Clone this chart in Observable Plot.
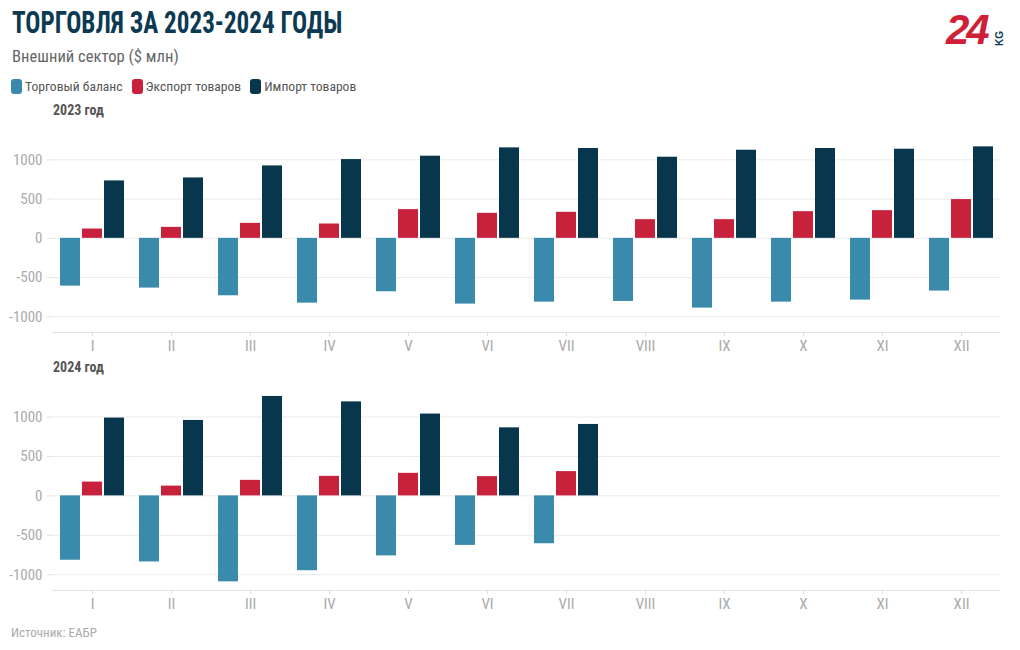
<!DOCTYPE html>
<html>
<head>
<meta charset="utf-8">
<script src="https://cdn.jsdelivr.net/npm/d3@7"></script>
<script src="https://cdn.jsdelivr.net/npm/@observablehq/plot@0.6"></script>
<style>
  body { margin: 0; background: #fff; }
  #root { position: relative; width: 1020px; height: 650px; overflow: hidden;
          font-family: "Roboto Condensed", "Liberation Sans Narrow", "DejaVu Sans Condensed", Roboto, sans-serif; }
  .abs { position: absolute; white-space: nowrap; }
  #title { left: 12px; top: 4px; font-size: 31px; font-weight: 700; color: #0b3a52;
           transform: scaleX(0.81); transform-origin: 0 0; }
  #subtitle { left: 12px; top: 47px; font-size: 16.6px; color: #666; }
  #legend { left: 11px; top: 78px; font-size: 13.6px; color: #555; display: flex; gap: 9px; }
  #legend .item { display: flex; align-items: center; gap: 3px; }
  #legend .sw { width: 11px; height: 15px; border-radius: 3px; display: inline-block; }
  .ptitle { left: 53px; font-size: 14px; font-weight: 700; color: #555; }
  #source { left: 11px; top: 625px; font-size: 13px; color: #aaa; }
  .chart { left: 0; }
</style>
</head>
<body>
<div id="root">
  <div id="title" class="abs">ТОРГОВЛЯ ЗА 2023-2024 ГОДЫ</div>
  <div id="subtitle" class="abs">Внешний сектор ($ млн)</div>
  <div id="legend" class="abs"></div>
  <div class="abs ptitle" style="top:102px">2023 год</div>
  <div id="c2023" class="abs chart" style="top:120px"></div>
  <div class="abs ptitle" style="top:359px">2024 год</div>
  <div id="c2024" class="abs chart" style="top:377px"></div>
  <div id="source" class="abs">Источник: ЕАБР</div>
  <svg class="abs" style="left:936px;top:4px" width="80" height="50">
    <text x="10" y="40" font-family="Liberation Sans, Arial, sans-serif" font-weight="700" font-style="italic" font-size="42" fill="#cf2038" letter-spacing="-3">24</text>
    <text x="0" y="0" transform="translate(67,42) rotate(-90)" font-family="Liberation Sans, Arial, sans-serif" font-weight="700" font-size="10" fill="#0b3a52">KG</text>
  </svg>
</div>
<script>
const months = ["I","II","III","IV","V","VI","VII","VIII","IX","X","XI","XII"];
const seriesNames = ["Торговый баланс", "Экспорт товаров", "Импорт товаров"];
const seriesColors = ["#3a8aab", "#c8213c", "#08374d"];
const yTicks = [-1000, -500, 0, 500, 1000];

const balance2023 = [-609, -634, -732, -826, -681, -838, -813, -804, -889, -813, -787, -672];
const export2023  = [119, 140, 191, 183, 366, 319, 332, 238, 238, 340, 353, 494];
const import2023  = [732, 770, 923, 1004, 1047, 1153, 1145, 1034, 1123, 1145, 1136, 1166];

const balance2024 = [-816, -838, -1090, -949, -761, -628, -607];
const export2024  = [175, 124, 197, 248, 286, 244, 308];
const import2024  = [987, 957, 1261, 1192, 1038, 863, 906];

// legend
const leg = document.getElementById("legend");
seriesNames.forEach((n, i) => {
  const it = document.createElement("span");
  it.className = "item";
  it.innerHTML = `<span class="sw" style="background:${seriesColors[i]}"></span><span>${n}</span>`;
  leg.appendChild(it);
});

const FONT = `"Roboto Condensed", "Liberation Sans Narrow", "DejaVu Sans Condensed", Roboto, sans-serif`;

function rows(vals) {
  return vals.map((v, i) => ({month: months[i], value: v}));
}

function chart(bal, exp, imp, height) {
  // band width is 64px: three 20px bars with 2px gaps
  return Plot.plot({
    width: 1020,
    height,
    marginLeft: 52,
    marginRight: 20,
    marginTop: 8,
    marginBottom: 28,
    style: {fontFamily: FONT, fontSize: "15px", background: "transparent"},
    x: {domain: months, paddingInner: 0.19, paddingOuter: 0.095, label: null},
    y: {domain: [-1200, 1400], label: null},
    marks: [
      Plot.ruleY(yTicks, {stroke: "#ebebeb"}),
      Plot.ruleY([-1200], {stroke: "#e2e2e2"}),
      Plot.axisY({ticks: yTicks, tickFormat: d => String(d), tickSize: 5, tickPadding: 5,
                  stroke: "#e2e2e2", fill: "#aaa", line: true, label: null}),
      Plot.axisX({tickSize: 4, tickPadding: 4, stroke: "#ddd", fill: "#aaa", label: null}),
      Plot.barY(rows(bal), {x: "month", y: "value", fill: seriesColors[0], insetLeft: 0, insetRight: 44}),
      Plot.barY(rows(exp), {x: "month", y: "value", fill: seriesColors[1], insetLeft: 22, insetRight: 22}),
      Plot.barY(rows(imp), {x: "month", y: "value", fill: seriesColors[2], insetLeft: 44, insetRight: 0})
    ]
  });
}

document.getElementById("c2023").appendChild(chart(balance2023, export2023, import2023, 240));
document.getElementById("c2024").appendChild(chart(balance2024, export2024, import2024, 241));
</script>
</body>
</html>
